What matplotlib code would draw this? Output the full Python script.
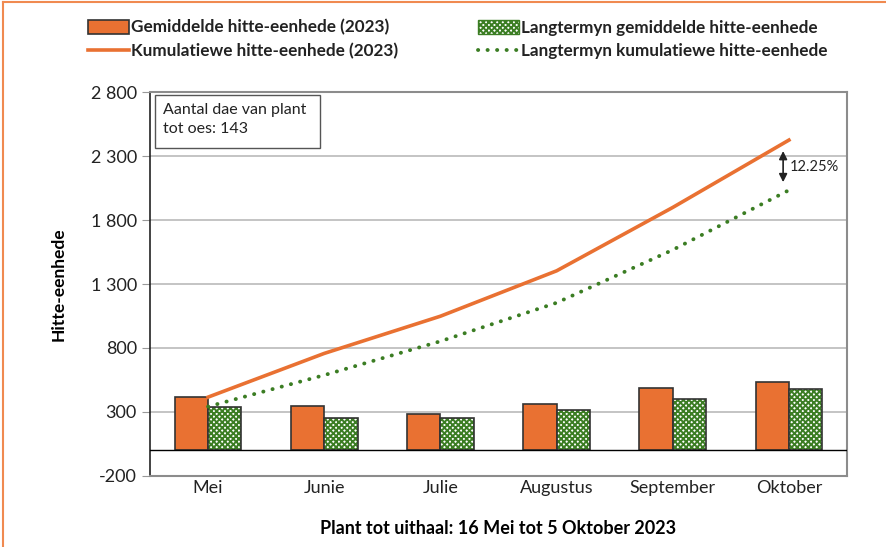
import numpy as np
import matplotlib
matplotlib.use('Agg')
import matplotlib.pyplot as plt
from matplotlib.patches import Patch, Rectangle
from matplotlib.lines import Line2D
from matplotlib.ticker import FuncFormatter

plt.rcParams['font.family'] = ['Lato', 'DejaVu Sans']
plt.rcParams['hatch.linewidth'] = 1.4

# data
maande = ['Mei', 'Junie', 'Julie', 'Augustus', 'September', 'Oktober']
gem_2023 = [415, 349, 282, 360, 488, 532]
gem_langtermyn = [341, 251, 248, 316, 404, 477]
kum_2023 = [415, 757, 1048, 1403, 1899, 2426]
kum_langtermyn = [341, 587, 852, 1153, 1567, 2034]
y_ticks = [-200, 300, 800, 1300, 1800, 2300, 2800]

oranje = '#E97132'
groen = '#3B7D23'
rand = '#333333'
stippel = (0, (0.05, 2.4))

fig = plt.figure(figsize=(8.86, 5.47), dpi=100)
ax = fig.add_axes([0.1693, 0.1303, 0.7867, 0.701])

x = np.arange(len(maande))
w = 0.287

ax.bar(x - w/2, gem_2023, w, color=oranje, edgecolor=rand, linewidth=1.2, zorder=3)
# hatched green bars: hatch first, then outline
ax.bar(x + w/2, gem_langtermyn, w, color='white', edgecolor=groen, hatch='xxxxxx', linewidth=0, zorder=3)
ax.bar(x + w/2, gem_langtermyn, w, fill=False, edgecolor=rand, linewidth=1.2, zorder=4)

ax.plot(x, kum_2023, color=oranje, lw=2.6, zorder=5)
ax.plot(x, kum_langtermyn, color=groen, lw=2.8, linestyle=stippel, dash_capstyle='round', zorder=5)

ax.axhline(0, color='black', lw=1, zorder=4)

ax.set_xlim(-0.5, 5.5)
ax.set_ylim(-200, 2800)
ax.set_yticks(y_ticks)
ax.yaxis.set_major_formatter(FuncFormatter(lambda v, p: f'{int(v):,}'.replace(',', ' ')))
ax.set_xticks(x)
ax.set_xticklabels(maande)
ax.tick_params(axis='x', length=0, labelsize=13, pad=3, colors='#222222')
ax.tick_params(axis='y', length=6, labelsize=13, color='#999999', labelcolor='#222222', direction='out')
ax.yaxis.grid(True, color='#BFBFBF', lw=1.3, zorder=0)
ax.set_axisbelow(True)

for s in ['top', 'right', 'bottom']:
    ax.spines[s].set_color('#8C8C8C')
    ax.spines[s].set_linewidth(1.5)
ax.spines['left'].set_color('#222222')
ax.spines['left'].set_linewidth(1.2)

ax.set_ylabel('Hitte-eenhede', fontsize=12.5, fontweight='bold', labelpad=17)
ax.set_xlabel('Plant tot uithaal: 16 Mei tot 5 Oktober 2023', fontsize=13, fontweight='bold', labelpad=17)

# info box
ax.add_patch(Rectangle((0.0072, 0.855), 0.237, 0.138, transform=ax.transAxes,
                       facecolor='white', edgecolor='#555555', lw=1, zorder=6))
ax.text(0.019, 0.972, 'Aantal dae van plant\ntot oes: 143', transform=ax.transAxes,
        fontsize=11.5, va='top', ha='left', linespacing=1.45, color='#222222', zorder=7)

# verskil-pyl
ax.annotate('', xy=(4.95, 2075), xytext=(4.95, 2362),
            arrowprops=dict(arrowstyle='<|-|>', color='#222222', lw=1.2, mutation_scale=12), zorder=7)
ax.text(5.01, 2214, '12.25%', fontsize=10.5, va='center', ha='left', color='#222222')

handles = [
    Patch(facecolor=oranje, edgecolor=rand, linewidth=1.2),
    Line2D([0], [0], color=oranje, lw=2.6),
    Patch(facecolor='white', edgecolor=groen, hatch='xxxxxx', linewidth=1),
    Line2D([0], [0], color=groen, lw=2.8, linestyle=stippel, dash_capstyle='round'),
]
labels = ['Gemiddelde hitte-eenhede (2023)', 'Kumulatiewe hitte-eenhede (2023)',
          'Langtermyn gemiddelde hitte-eenhede', 'Langtermyn kumulatiewe hitte-eenhede']
leg = fig.legend(handles, labels, ncol=2, loc='upper left', bbox_to_anchor=(0.092, 0.977),
                 frameon=False, prop={'weight': 'bold', 'size': 12.3}, handlelength=2.4,
                 handleheight=0.85, handletextpad=0.1, columnspacing=4.7, labelspacing=0.45,
                 borderaxespad=0)
for t in leg.get_texts():
    t.set_color('#222222')

# orange page border (top and left)
fig.add_artist(Line2D([0.003, 0.003], [0, 0.997], transform=fig.transFigure, color='#F08A50', lw=1.5))
fig.add_artist(Line2D([0.003, 1], [0.997, 0.997], transform=fig.transFigure, color='#F08A50', lw=1.5))

fig.savefig('out.png', dpi=100)
